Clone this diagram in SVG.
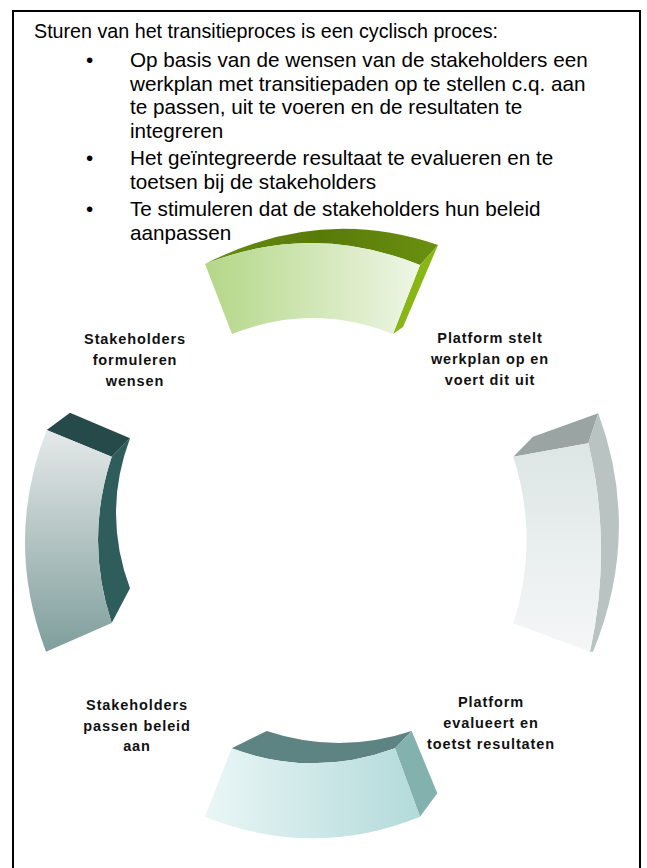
<svg xmlns="http://www.w3.org/2000/svg" width="647" height="868" viewBox="0 0 647 868">
<defs>
<style>
.body{font-family:"Liberation Sans",Arial,sans-serif;font-size:20.7px;fill:#000}
.title{font-family:"Liberation Sans",Arial,sans-serif;font-size:19.7px;fill:#000}
.lbl{font-family:"Liberation Sans",Arial,sans-serif;font-size:14.5px;font-weight:bold;letter-spacing:0.9px;fill:#111;text-anchor:middle}
</style>
<linearGradient id="gTop" x1="0" y1="0" x2="1" y2="0"><stop offset="0" stop-color="#b3d787"/><stop offset="1" stop-color="#eff6e6"/></linearGradient>
<linearGradient id="gTopLid" x1="0" y1="0" x2="1" y2="0"><stop offset="0" stop-color="#668c10"/><stop offset="0.5" stop-color="#587b08"/><stop offset="1" stop-color="#6a9010"/></linearGradient>
<linearGradient id="gLeft" x1="0" y1="0" x2="0" y2="1"><stop offset="0" stop-color="#e5e9e9"/><stop offset="1" stop-color="#7f9e9c"/></linearGradient>
<linearGradient id="gRight" x1="0" y1="0" x2="0" y2="1"><stop offset="0" stop-color="#dde5e5"/><stop offset="1" stop-color="#f5f7f7"/></linearGradient>
<linearGradient id="gBot" x1="0" y1="0" x2="1" y2="0"><stop offset="0" stop-color="#eaf6f6"/><stop offset="1" stop-color="#b3dada"/></linearGradient>
</defs>
<rect x="13" y="11" width="627" height="870" fill="#fff" stroke="#000" stroke-width="2"/>
<g id="intro">
<text class="title" x="34" y="38">Sturen van het transitieproces is een cyclisch proces:</text>
<text class="body" x="86" y="67">•</text>
<text class="body" x="130" y="67">Op basis van de wensen van de stakeholders een</text>
<text class="body" x="130" y="90.5">werkplan met transitiepaden op te stellen c.q. aan</text>
<text class="body" x="130" y="114">te passen, uit te voeren en de resultaten te</text>
<text class="body" x="130" y="137.5">integreren</text>
<text class="body" x="86" y="165">•</text>
<text class="body" x="130" y="165">Het geïntegreerde resultaat te evalueren en te</text>
<text class="body" x="130" y="188.5">toetsen bij de stakeholders</text>
<text class="body" x="86" y="216">•</text>
<text class="body" x="130" y="216">Te stimuleren dat de stakeholders hun beleid</text>
<text class="body" x="130" y="239.5">aanpassen</text>
</g>
<g id="seg-top">
<path d="M205,264 Q320,205 438,245 L420,265 Q312,221.5 205,264 Z" fill="url(#gTopLid)"/>
<path d="M420,265 L438,245 L403,327 L393,334 Z" fill="#88b615"/>
<path d="M205,264 Q312,221.5 420,265 L393,334 Q313,302 232,334 Z" fill="url(#gTop)"/>
</g>
<g id="seg-right">
<path d="M513.3,456.7 L533,436.7 L598.3,413.3 L588.3,443.3 Z" fill="#9aa4a3"/>
<path d="M588.3,443.3 L598.3,413.3 Q642,532 593,651.7 L590,651.7 Q612.9,547 588.3,443.3 Z" fill="#b9c3c2"/>
<path d="M513.3,456.7 L588.3,443.3 Q612.9,547 590,651.7 L513.3,623.3 Q540,540 513.3,456.7 Z" fill="url(#gRight)"/>
</g>
<g id="seg-bottom">
<path d="M231.7,748.3 L266.7,731 Q339,755 411.7,731 L395,748.3 Q313,778.3 231.7,748.3 Z" fill="#5d8482"/>
<path d="M395,748.3 L411.7,731 L437.3,793.3 L420,816.7 Z" fill="#83b1ae"/>
<path d="M231.7,748.3 Q313,778.3 395,748.3 L420,816.7 Q313,860 205,816.7 Z" fill="url(#gBot)"/>
</g>
<g id="seg-left">
<path d="M46.7,430 L70,412.7 L130,438.3 L111.7,456.7 Z" fill="#264a49"/>
<path d="M111.7,456.7 L130,438.3 Q102,513 130,588.3 L111.7,623 Q84.3,540 111.7,456.7 Z" fill="#2f5d5b"/>
<path d="M46.7,430 L111.7,456.7 Q84.3,540 111.7,623 L46,651.7 Q3.6,541 46.7,430 Z" fill="url(#gLeft)"/>
</g>
<g id="labels">
<text class="lbl" x="135" y="344">Stakeholders</text>
<text class="lbl" x="135" y="365">formuleren</text>
<text class="lbl" x="135" y="386">wensen</text>
<text class="lbl" x="490" y="343">Platform stelt</text>
<text class="lbl" x="490" y="364">werkplan op en</text>
<text class="lbl" x="490" y="385">voert dit uit</text>
<text class="lbl" x="137" y="710">Stakeholders</text>
<text class="lbl" x="137" y="731">passen beleid</text>
<text class="lbl" x="137" y="751">aan</text>
<text class="lbl" x="491" y="707">Platform</text>
<text class="lbl" x="491" y="728">evalueert en</text>
<text class="lbl" x="491" y="749">toetst resultaten</text>
</g>
</svg>
